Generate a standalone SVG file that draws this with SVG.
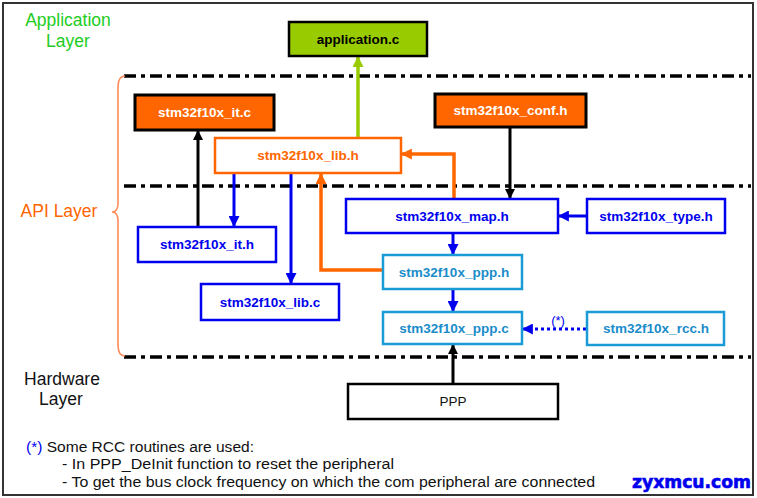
<svg xmlns="http://www.w3.org/2000/svg" width="757" height="498" viewBox="0 0 757 498">
<style>
.lbl{font-family:"Liberation Sans",Arial,sans-serif;font-size:13.5px;font-weight:bold;text-anchor:middle}
.layer{font-family:"Liberation Sans",Arial,sans-serif;font-size:17.5px;text-anchor:middle}
.note{font-family:"Liberation Sans",Arial,sans-serif;font-size:14px;fill:#111}
.sep{stroke:#000;stroke-width:3.5;stroke-dasharray:12 5 4 5;fill:none}
.blk{fill:none;stroke:#000;stroke-width:3}
.blu{fill:none;stroke:#0000ee;stroke-width:3}
.org{fill:none;stroke:#ff6600;stroke-width:3.5}
.grn{fill:none;stroke:#99cc00;stroke-width:3.5}
</style>
<defs>
<marker id="ak" viewBox="0 0 10 10" refX="9" refY="5" markerWidth="10" markerHeight="10" markerUnits="userSpaceOnUse" orient="auto"><path d="M0,0 L10,5 L0,10 z" fill="#000"/></marker>
<marker id="ab" viewBox="0 0 10 10" refX="9" refY="5" markerWidth="11" markerHeight="11" markerUnits="userSpaceOnUse" orient="auto"><path d="M0,0 L10,5 L0,10 z" fill="#0000ee"/></marker>
<marker id="ao" viewBox="0 0 10 10" refX="9" refY="5" markerWidth="11" markerHeight="11" markerUnits="userSpaceOnUse" orient="auto"><path d="M0,0 L10,5 L0,10 z" fill="#ff6600"/></marker>
<marker id="ag" viewBox="0 0 10 10" refX="9" refY="5" markerWidth="11" markerHeight="11" markerUnits="userSpaceOnUse" orient="auto"><path d="M0,0 L10,5 L0,10 z" fill="#99cc00"/></marker>
</defs>
<rect x="0" y="0" width="757" height="498" fill="#fff"/>
<rect x="3" y="3" width="750" height="492" fill="#fff" stroke="#333" stroke-width="2"/>

<!-- layer labels -->
<text class="layer" x="68" y="26" fill="#22cc22">Application</text>
<text class="layer" x="68" y="47" fill="#22cc22">Layer</text>
<text class="layer" x="59" y="217" fill="#ff6600">API Layer</text>
<text class="layer" x="62" y="385" fill="#111">Hardware</text>
<text class="layer" x="61" y="405" fill="#111">Layer</text>

<!-- separators and brace -->
<line class="sep" x1="124" y1="76" x2="751" y2="76"/>
<line class="sep" x1="124" y1="186" x2="751" y2="186"/>
<line class="sep" x1="124" y1="357" x2="751" y2="357"/>
<path d="M125,76 Q118,76 118,87 L118,203 Q118,212 112,212 Q118,212 118,221 L118,345 Q118,356 125,356" fill="none" stroke="#ff8c5a" stroke-width="1.6"/>

<!-- connectors -->
<g id="connectors">
<line class="grn" x1="358" y1="138" x2="358" y2="57" marker-end="url(#ag)"/>
<line class="blk" x1="198" y1="227" x2="198" y2="131" marker-end="url(#ak)"/>
<line class="blk" x1="510" y1="127" x2="510" y2="198" marker-end="url(#ak)"/>
<line class="blu" x1="234" y1="173" x2="234" y2="226" marker-end="url(#ab)"/>
<line class="blu" x1="291" y1="173" x2="291" y2="283" marker-end="url(#ab)"/>
<polyline class="org" points="383,270 321,270 321,174" marker-end="url(#ao)"/>
<polyline class="org" points="454,199 454,154 402,154" marker-end="url(#ao)"/>
<line class="blu" x1="587" y1="216" x2="559" y2="216" marker-end="url(#ab)"/>
<line class="blu" x1="453" y1="233" x2="453" y2="254" marker-end="url(#ab)"/>
<line class="blu" x1="453" y1="289" x2="453" y2="311" marker-end="url(#ab)"/>
<line x1="586" y1="329" x2="530" y2="329" stroke="#0000ee" stroke-width="3" stroke-dasharray="3 3"/>
<line x1="531" y1="329" x2="523" y2="329" stroke="#0000ee" stroke-width="3" marker-end="url(#ab)"/>
<text x="558" y="325" font-family="Liberation Sans, Arial, sans-serif" font-size="13" fill="#0000ee" text-anchor="middle">(*)</text>
<line class="blk" x1="453" y1="384" x2="453" y2="345" marker-end="url(#ak)"/>
</g>

<!-- nodes -->
<g id="application_c">
<rect x="289" y="22" width="138" height="34" fill="#99cc00" stroke="#000" stroke-width="2.5"/>
<text class="lbl" x="358" y="44" fill="#000">application.c</text>
</g>
<g id="it_c">
<rect x="135" y="95" width="139" height="35" fill="#ff6600" stroke="#000" stroke-width="3"/>
<text class="lbl" x="204.5" y="117" fill="#fff">stm32f10x_it.c</text>
</g>
<g id="conf_h">
<rect x="435" y="94" width="151" height="33" fill="#ff6600" stroke="#000" stroke-width="3"/>
<text class="lbl" x="510.5" y="115" fill="#fff">stm32f10x_conf.h</text>
</g>
<g id="lib_h">
<rect x="215" y="138" width="186" height="35" fill="#fff" stroke="#ff6600" stroke-width="2.5"/>
<text class="lbl" x="308" y="160" fill="#ff6600">stm32f10x_lib.h</text>
</g>
<g id="it_h">
<rect x="138" y="227" width="138" height="35" fill="#fff" stroke="#0000ee" stroke-width="2.5"/>
<text class="lbl" x="207" y="249" fill="#0000ee">stm32f10x_it.h</text>
</g>
<g id="lib_c">
<rect x="201" y="284" width="138" height="36" fill="#fff" stroke="#0000ee" stroke-width="2.5"/>
<text class="lbl" x="270" y="306.5" fill="#0000ee">stm32f10x_lib.c</text>
</g>
<g id="map_h">
<rect x="346" y="199" width="212" height="34" fill="#fff" stroke="#0000ee" stroke-width="2.5"/>
<text class="lbl" x="452" y="220.5" fill="#0000ee">stm32f10x_map.h</text>
</g>
<g id="type_h">
<rect x="587" y="199" width="138" height="34" fill="#fff" stroke="#0000ee" stroke-width="2.5"/>
<text class="lbl" x="656" y="220.5" fill="#0000ee">stm32f10x_type.h</text>
</g>
<g id="ppp_h">
<rect x="383" y="255" width="139" height="34" fill="#fff" stroke="#1b9bd6" stroke-width="2.5"/>
<text class="lbl" x="454" y="276.5" fill="#1a8cca">stm32f10x_ppp.h</text>
</g>
<g id="ppp_c">
<rect x="383" y="312" width="139" height="32" fill="#fff" stroke="#1b9bd6" stroke-width="2.5"/>
<text class="lbl" x="454" y="332.5" fill="#1a8cca">stm32f10x_ppp.c</text>
</g>
<g id="rcc_h">
<rect x="587" y="312" width="137" height="33" fill="#fff" stroke="#1b9bd6" stroke-width="2.5"/>
<text class="lbl" x="656" y="333" fill="#1a8cca">stm32f10x_rcc.h</text>
</g>
<g id="ppp">
<rect x="348" y="384" width="210" height="35" fill="#fff" stroke="#000" stroke-width="2.5"/>
<text x="453" y="406" font-family="Liberation Sans, Arial, sans-serif" font-size="13.5" fill="#111" text-anchor="middle">PPP</text>
</g>

<!-- note -->
<text class="note" x="26" y="452" textLength="228" lengthAdjust="spacingAndGlyphs"><tspan fill="#0000ee">(*)</tspan> Some RCC routines are used:</text>
<text class="note" x="62" y="469" textLength="332" lengthAdjust="spacingAndGlyphs">- In  PPP_DeInit function to reset the peripheral</text>
<text class="note" x="62" y="487" textLength="533" lengthAdjust="spacingAndGlyphs">- To get the bus clock frequency on which the com peripheral are connected</text>
<text x="632" y="488" font-family="DejaVu Sans, Liberation Sans, sans-serif" font-size="17" font-weight="bold" fill="#0000ee" stroke="#0000ee" stroke-width="0.6" textLength="119" lengthAdjust="spacingAndGlyphs">zyxmcu.com</text>
</svg>
